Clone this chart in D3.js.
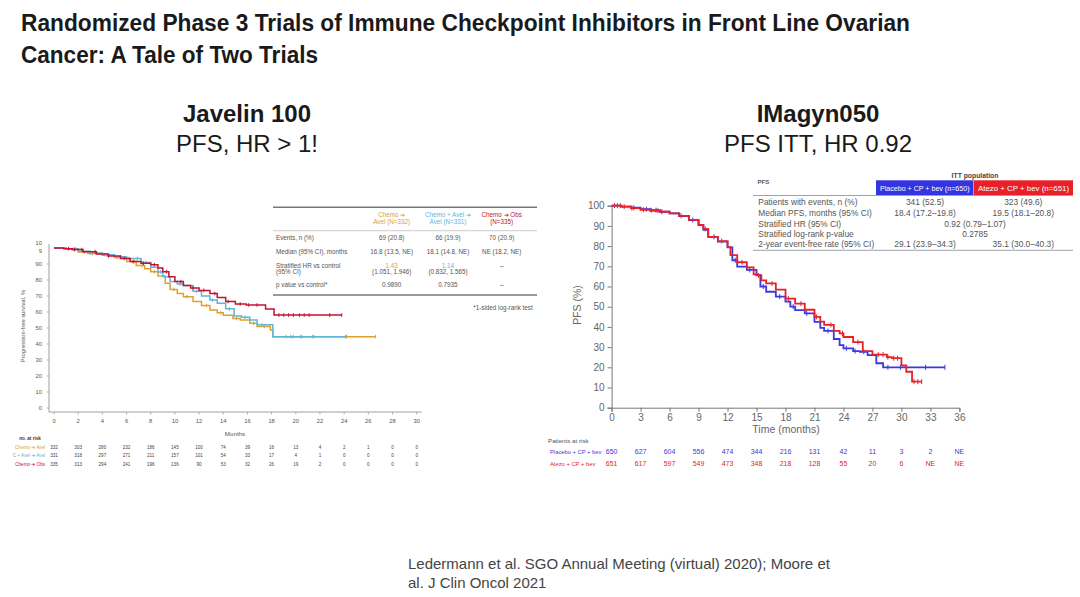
<!DOCTYPE html>
<html>
<head>
<meta charset="utf-8">
<script src="https://cdn.jsdelivr.net/npm/d3@7"></script>
<style>
    body { margin: 0; background: #fff; }
    svg { display: block; }
</style>
</head>
<body>
<svg id="slide"></svg>
<script>
// ---------- Javelin 100 (left panel) ----------
const javelinXTicks = [0, 2, 4, 6, 8, 10, 12, 14, 16, 18, 20, 22, 24, 26, 28, 30];
const javelinYTicks = [0, 10, 20, 30, 40, 50, 60, 70, 80, 90, 98, 103];
const javelinYLabels = ["0", "10", "20", "30", "40", "50", "60", "70", "80", "90", "9", "10"];
const javelinArmLabels = ["Chemo ➔ Avel", "C + Avel ➔ Avel", "Chemo ➔ Obs"];

const javelinAvel = [[0, 100], [1, 99.3], [2, 97.5], [2.8, 96.5], [4, 95.5], [5, 94], [6, 91.5], [6.8, 89], [7.5, 87],
    [8, 85.2], [8.6, 82.5], [9.2, 78], [9.6, 74], [10.2, 71.5], [10.7, 69.6], [11.5, 66.5], [12.2, 64], [12.9, 61.3],
    [13.5, 59.5], [14, 58], [14.8, 56], [15.4, 55], [16.2, 52.9], [16.8, 51], [17.9, 48.8], [18.1, 44.6], [26.6, 44.6]];
const javelinCombo = [[0, 100], [1, 99.5], [2, 98], [3, 96.8], [4, 95.8], [5, 94.5], [6, 93.5], [7.2, 91], [8, 88],
    [8.6, 85], [9, 82], [9.6, 79], [10.2, 77.5], [10.7, 76.5], [11.5, 73], [12.2, 70], [12.9, 67.5], [13.5, 65.4],
    [14.2, 62], [14.9, 57.5], [15.5, 56.7], [16.2, 55], [16.8, 52], [18.1, 44.6], [24.1, 44.6]];
const javelinObs = [[0, 100], [0.8, 99.6], [1.5, 99], [2.4, 97.7], [3.5, 96.3], [4.5, 95], [5.5, 93.5], [6.3, 91.5],
    [7.2, 90.5], [8, 89.5], [8.6, 87.5], [9, 85.2], [9.5, 82], [10, 79], [10.7, 76.5], [11.3, 75], [12, 73.5],
    [12.9, 71.5], [13.5, 69], [14.2, 66.5], [15, 65], [15.9, 64.4], [17.5, 61.9], [18.2, 58.1], [23.8, 58.1]];

const javelinAvelCensor = [1.6, 2.5, 3.2, 4.4, 5.2, 6.5, 7.3, 8.3, 9.9, 11, 12.6, 13.8, 15.1, 16.5, 17.4, 19.2, 19.8, 20.5, 21.4, 24.2, 26.6];
const javelinComboCensor = [1.8, 3, 4.2, 5.5, 6.2, 6.9, 7.6, 8.8, 10.4, 11.8, 13.1, 14.5, 15.8, 17.2, 19.6, 20.4, 21.5, 24.1];
const javelinObsCensor = [1.2, 1.7, 2.3, 3.4, 4.5, 5.8, 6.6, 7.4, 8.3, 9.3, 10.5, 11.5, 12.4, 13.3, 14.4, 15.4, 16.1,
    16.8, 18.6, 19, 19.4, 19.8, 20.3, 20.7, 21.1, 22.8, 23.8];

const javelinAtRiskAvel = [332, 303, 280, 232, 186, 145, 100, 74, 39, 16, 13, 4, 2, 1, 0, 0];
const javelinAtRiskCombo = [331, 318, 297, 271, 211, 157, 101, 54, 33, 17, 4, 1, 0, 0, 0, 0];
const javelinAtRiskObs = [335, 313, 294, 241, 196, 136, 90, 53, 32, 26, 19, 2, 0, 0, 0, 0];

const javelinTableHeaders = [["Chemo ➔", "Avel (N=332)"], ["Chemo + Avel ➔", "Avel (N=331)"], ["Chemo ➔ Obs", "(N=335)"]];
const javelinTableRows = [["Events, n (%)"], ["Median (95% CI), months"], ["Stratified HR vs control", "(95% CI)"], ["p value vs control*"]];
const javelinTableAvel = [["69 (20.8)"], ["16.8 (13.5, NE)"], ["1.43", "(1.051, 1.946)"], ["0.9890"]];
const javelinTableCombo = [["66 (19.9)"], ["18.1 (14.8, NE)"], ["1.14", "(0.832, 1.565)"], ["0.7935"]];
const javelinTableObs = [["70 (20.9)"], ["NE (18.2, NE)"], ["–"], ["–"]];

// ---------- IMagyn050 (right panel) ----------
const imagynXTicks = [0, 3, 6, 9, 12, 15, 18, 21, 24, 27, 30, 33, 36];
const imagynYTicks = [0, 10, 20, 30, 40, 50, 60, 70, 80, 90, 100];
const imagynArmLabels = ["Placebo + CP + bev", "Atezo + CP + bev"];

const imagynPlacebo = [[0, 100], [1, 99.5], [2, 99], [3, 98.3], [4, 97.8], [5, 97], [6, 96.2], [7, 94.9], [8, 92.9],
    [9, 90.4], [9.5, 88], [10, 84.6], [11, 82.2], [12, 79.4], [12.5, 73], [13, 69.8], [14, 68.2], [15, 65.7], [15.4, 60],
    [16, 57.4], [17, 55], [18, 52.5], [18.5, 50], [19, 48.3], [20, 46.7], [21, 42.5], [21.6, 39.5], [22, 38], [23, 34],
    [23.6, 31], [24, 29.4], [25, 28], [25.7, 27.7], [26.5, 26], [27.4, 22], [28.1, 20], [34.5, 20]];
const imagynAtezo = [[0, 100], [1, 99.5], [2, 98.8], [3, 98], [4, 97.5], [5, 97], [6, 96.2], [7, 95], [8, 93],
    [9, 90.5], [9.5, 88.5], [10, 84.6], [11, 82.5], [12, 79.5], [12.3, 75.5], [13, 72], [14, 69.5], [14.7, 66],
    [15, 65.5], [15.5, 63], [16, 61.5], [17, 58.5], [18, 54], [19, 51.5], [20, 48.5], [21, 45], [21.6, 42.6], [22, 41],
    [23, 38], [23.6, 36.8], [24, 35], [25, 32.5], [26, 28], [27, 26.3], [28.5, 25], [29, 24.5], [30, 21], [30.5, 17.8],
    [31.1, 12.9], [32.1, 12.9]];

const imagynPlaceboCensor = [2.3, 3.6, 4.1, 4.6, 5.2, 8.4, 10.6, 12.8, 14.3, 15.7, 17.4, 18.8, 20.2, 22.4, 24.3, 25.2, 26.1, 28.6, 29.9, 32.5, 34.5];
const imagynAtezoCensor = [0.3, 0.6, 0.9, 1.3, 2.1, 3.3, 4.8, 7.2, 9.7, 11.4, 13.5, 15.2, 16.6, 18.3, 19.6, 21.2, 22.7,
    23.9, 25.5, 27.6, 28.1, 28.6, 29.2, 29.6, 31.3, 31.7, 32.1];

const imagynAtRiskPlacebo = ["650", "627", "604", "556", "474", "344", "216", "131", "42", "11", "3", "2", "NE"];
const imagynAtRiskAtezo = ["651", "617", "597", "549", "473", "348", "218", "128", "55", "20", "6", "NE", "NE"];

const imagynTableHeaders = ["Placebo + CP + bev (n=650)", "Atezo + CP + bev (n=651)"];
const imagynTableRows = ["Patients with events, n (%)", "Median PFS, months (95% CI)", "Stratified HR (95% CI)",
    "Stratified log-rank p-value", "2-year event-free rate (95% CI)"];
const imagynTablePlacebo = ["341 (52.5)", "18.4 (17.2–19.8)", null, null, "29.1 (23.9–34.3)"];
const imagynTableAtezo = ["323 (49.6)", "19.5 (18.1–20.8)", null, null, "35.1 (30.0–40.3)"];
const imagynTableBoth = [null, null, "0.92 (0.79–1.07)", "0.2785", null];

// ---------- drawing ----------
function main() {
    const width = 1080;
    const height = 597;
    const sans = "'Liberation Sans', Arial, sans-serif";

    const svg = d3
        .select("#slide")
        .attr("width", width)
        .attr("height", height)
        .attr("viewBox", [0, 0, width, height])
        .style("font-family", sans);

    // slide title (squeezed a little, the original face is a narrow one)
    const titleLines = ["Randomized Phase 3 Trials of Immune Checkpoint Inhibitors in Front Line Ovarian", "Cancer: A Tale of Two Trials"];
    const titleWidths = [889, 297];
    svg.append("g")
        .selectAll("text")
        .data(titleLines)
        .enter()
        .append("text")
        .attr("x", 21)
        .attr("y", (d, i) => 31 + i * 32)
        .attr("font-weight", "bold")
        .attr("font-size", 23.5)
        .attr("textLength", (d, i) => titleWidths[i])
        .attr("lengthAdjust", "spacingAndGlyphs")
        .attr("fill", "#1a1a1a")
        .text(d => d);

    const heads = [
        { x: 247, title: "Javelin 100", sub: "PFS, HR > 1!" },
        { x: 818, title: "IMagyn050", sub: "PFS ITT, HR 0.92" }
    ];
    heads.forEach(h => {
        svg.append("text").attr("x", h.x).attr("y", 122).attr("text-anchor", "middle")
            .attr("font-weight", "bold").attr("font-size", 24).attr("fill", "#1a1a1a").text(h.title);
        svg.append("text").attr("x", h.x).attr("y", 152).attr("text-anchor", "middle")
            .attr("font-size", 24).attr("fill", "#1a1a1a").text(h.sub);
    });

    svg.append("g")
        .selectAll("text")
        .data(["Ledermann et al. SGO Annual Meeting (virtual) 2020); Moore et", "al. J Clin Oncol 2021"])
        .enter()
        .append("text")
        .attr("x", 408)
        .attr("y", (d, i) => 569 + i * 19)
        .attr("font-size", 15)
        .attr("fill", "#444")
        .text(d => d);

    const line = (x, y) => d3.line().curve(d3.curveStepAfter).x(d => x(d[0])).y(d => y(d[1]));
    const survivalAt = (series, m) => {
        const i = d3.bisector(d => d[0]).right(series, m) - 1;
        return series[Math.max(0, i)][1];
    };

    // ===== left: Javelin 100 =====
    const xL = d3.scaleLinear().domain([0, 30]).range([54, 416.7]);
    const yL = d3.scaleLinear().domain([0, 100]).range([408, 248]);
    const left = svg.append("g").attr("font-size", 5.8).attr("fill", "#555");

    left.append("line").attr("x1", 49).attr("x2", 49).attr("y1", yL(102.5)).attr("y2", 412)
        .attr("stroke", "#888").attr("stroke-width", 0.8);
    left.append("line").attr("x1", 49).attr("x2", 421.5).attr("y1", 412).attr("y2", 412)
        .attr("stroke", "#888").attr("stroke-width", 0.8);

    left.selectAll(".ytick")
        .data(javelinYTicks)
        .enter()
        .append("text")
        .attr("x", 42)
        .attr("y", d => yL(d) + 2)
        .attr("text-anchor", "end")
        .text((d, i) => javelinYLabels[i]);
    left.selectAll(".ytk")
        .data(javelinYTicks.slice(0, 10))
        .enter()
        .append("line")
        .attr("x1", 47).attr("x2", 49)
        .attr("y1", d => yL(d)).attr("y2", d => yL(d))
        .attr("stroke", "#888").attr("stroke-width", 0.6);

    left.selectAll(".xtick")
        .data(javelinXTicks)
        .enter()
        .append("text")
        .attr("x", d => xL(d))
        .attr("y", 422.5)
        .attr("text-anchor", "middle")
        .text(d => d);
    left.selectAll(".xtk")
        .data(javelinXTicks)
        .enter()
        .append("line")
        .attr("x1", d => xL(d)).attr("x2", d => xL(d))
        .attr("y1", 412).attr("y2", 414.5)
        .attr("stroke", "#888").attr("stroke-width", 0.6);

    left.append("text").attr("x", 235).attr("y", 436).attr("text-anchor", "middle").attr("font-size", 6.2).text("Months");
    left.append("text")
        .attr("transform", "translate(25,326)rotate(-90)")
        .attr("text-anchor", "middle")
        .attr("font-size", 5.8)
        .text("Progression-free survival, %");

    const javelinArms = [
        { data: javelinAvel, censor: javelinAvelCensor, risk: javelinAtRiskAvel, color: "#E0A030" },
        { data: javelinCombo, censor: javelinComboCensor, risk: javelinAtRiskCombo, color: "#5DB6DB" },
        { data: javelinObs, censor: javelinObsCensor, risk: javelinAtRiskObs, color: "#C4122F" }
    ];
    javelinArms.forEach((arm, k) => {
        left.append("path")
            .attr("d", line(xL, yL)(arm.data))
            .attr("fill", "none")
            .attr("stroke", arm.color)
            .attr("stroke-width", 1.5);
        left.selectAll(null)
            .data(arm.censor)
            .enter()
            .append("line")
            .attr("x1", d => xL(d)).attr("x2", d => xL(d))
            .attr("y1", d => yL(survivalAt(arm.data, d)) - 1.8)
            .attr("y2", d => yL(survivalAt(arm.data, d)) + 1.8)
            .attr("stroke", arm.color)
            .attr("stroke-width", 1);
        // number at risk
        left.append("text").attr("x", 45).attr("y", 448.5 + k * 8.8).attr("text-anchor", "end")
            .attr("font-size", 4.6).attr("fill", arm.color).text(javelinArmLabels[k]);
        left.selectAll(null)
            .data(arm.risk)
            .enter()
            .append("text")
            .attr("x", (d, i) => xL(javelinXTicks[i]))
            .attr("y", 448.5 + k * 8.8)
            .attr("text-anchor", "middle")
            .attr("font-size", 4.6)
            .attr("fill", "#444")
            .text(d => d);
    });
    left.append("text").attr("x", 30).attr("y", 439.5).attr("text-anchor", "middle")
        .attr("font-size", 4.6).attr("font-weight", "bold").attr("fill", "#333").text("no. at risk");

    // summary table (left)
    const tL = svg.append("g").attr("font-size", 6.3).attr("fill", "#555");
    tL.append("rect").attr("x", 273).attr("y", 207).attr("width", 264).attr("height", 88).attr("fill", "#fff");
    tL.append("line").attr("x1", 273).attr("x2", 537).attr("y1", 207.3).attr("y2", 207.3).attr("stroke", "#777").attr("stroke-width", 1.4);
    tL.append("line").attr("x1", 273).attr("x2", 537).attr("y1", 230.7).attr("y2", 230.7).attr("stroke", "#aaa").attr("stroke-width", 0.6);
    tL.append("line").attr("x1", 273).attr("x2", 537).attr("y1", 295).attr("y2", 295).attr("stroke", "#777").attr("stroke-width", 1.4);
    const colX = [391.7, 448, 501.7];
    const colColor = ["#E0A030", "#5DB6DB", "#C4122F"];
    const rowY = [240.3, 254.3, 267.8, 287.2];
    javelinTableHeaders.forEach((lines, c) => {
        lines.forEach((t, j) => {
            tL.append("text").attr("x", colX[c]).attr("y", 217 + j * 6.8).attr("text-anchor", "middle")
                .attr("fill", colColor[c]).text(t);
        });
    });
    javelinTableRows.forEach((lines, r) => {
        lines.forEach((t, j) => {
            tL.append("text").attr("x", 276).attr("y", rowY[r] + j * 6.5).text(t);
        });
    });
    [javelinTableAvel, javelinTableCombo, javelinTableObs].forEach((col, c) => {
        col.forEach((lines, r) => {
            lines.forEach((t, j) => {
                tL.append("text").attr("x", colX[c]).attr("y", rowY[r] + j * 6.5).attr("text-anchor", "middle")
                    .attr("fill", r === 2 && j === 0 && c < 2 ? colColor[c] : "#555").text(t);
            });
        });
    });
    tL.append("text").attr("x", 503).attr("y", 310).attr("text-anchor", "middle").text("*1-sided log-rank test");

    // ===== right: IMagyn050 =====
    const xR = d3.scaleLinear().domain([0, 36]).range([611.6, 959.4]);
    const yR = d3.scaleLinear().domain([0, 100]).range([407.7, 205.7]);
    const right = svg.append("g").attr("fill", "#666");

    right.append("g")
        .attr("transform", "translate(611.6,0)")
        .call(d3.axisLeft(yR).tickValues(imagynYTicks).tickSize(4).tickPadding(3))
        .call(g => g.selectAll("text").attr("font-size", 10).attr("fill", "#666").attr("font-family", sans))
        .call(g => g.selectAll("line,path").attr("stroke", "#777"));
    right.append("g")
        .attr("transform", "translate(0,407.7)")
        .call(d3.axisBottom(xR).tickValues(imagynXTicks).tickSize(4).tickPadding(2))
        .call(g => g.selectAll("text").attr("font-size", 10).attr("fill", "#666").attr("font-family", sans))
        .call(g => g.selectAll("line,path").attr("stroke", "#777"));

    right.append("text").attr("x", 786).attr("y", 433).attr("text-anchor", "middle")
        .attr("font-size", 10.5).text("Time (months)");
    right.append("text").attr("transform", "translate(581,305)rotate(-90)").attr("text-anchor", "middle")
        .attr("font-size", 10.5).text("PFS (%)");

    const imagynArms = [
        { data: imagynPlacebo, censor: imagynPlaceboCensor, risk: imagynAtRiskPlacebo, color: "#3A3ADF" },
        { data: imagynAtezo, censor: imagynAtezoCensor, risk: imagynAtRiskAtezo, color: "#E8202A" }
    ];
    imagynArms.forEach((arm, k) => {
        right.append("path")
            .attr("d", line(xR, yR)(arm.data))
            .attr("fill", "none")
            .attr("stroke", arm.color)
            .attr("stroke-width", 1.8);
        right.selectAll(null)
            .data(arm.censor)
            .enter()
            .append("line")
            .attr("x1", d => xR(d)).attr("x2", d => xR(d))
            .attr("y1", d => yR(survivalAt(arm.data, d)) - 2.5)
            .attr("y2", d => yR(survivalAt(arm.data, d)) + 2.5)
            .attr("stroke", arm.color)
            .attr("stroke-width", 1);
        right.append("text").attr("x", 550).attr("y", 453.5 + k * 12).attr("font-size", 5.8)
            .attr("fill", arm.color).text(imagynArmLabels[k]);
        right.selectAll(null)
            .data(arm.risk)
            .enter()
            .append("text")
            .attr("x", (d, i) => xR(imagynXTicks[i]))
            .attr("y", 453.5 + k * 12)
            .attr("text-anchor", "middle")
            .attr("font-size", 7)
            .attr("fill", arm.color)
            .text(d => d);
    });
    right.append("text").attr("x", 548).attr("y", 443).attr("font-size", 6.2).attr("fill", "#555").text("Patients at risk");

    // summary table (right)
    const tR = svg.append("g").attr("font-size", 8.4).attr("fill", "#555");
    tR.append("text").attr("x", 975).attr("y", 177.5).attr("text-anchor", "middle").attr("font-weight", "bold")
        .attr("font-size", 6.8).attr("fill", "#444").text("ITT population");
    tR.append("text").attr("x", 757.5).attr("y", 184).attr("font-weight", "bold").attr("font-size", 6)
        .attr("fill", "#555").text("PFS");
    const boxes = [{ x: 876, w: 97.5, color: "#3434E0" }, { x: 974, w: 99, color: "#E8202A" }];
    boxes.forEach((b, i) => {
        tR.append("rect").attr("x", b.x).attr("y", 180.3).attr("width", b.w).attr("height", 15).attr("fill", b.color);
        tR.append("text").attr("x", b.x + b.w / 2).attr("y", 190.5).attr("text-anchor", "middle").attr("font-size", 7.4)
            .attr("textLength", b.w - 8).attr("lengthAdjust", "spacingAndGlyphs")
            .attr("fill", "#fff").text(imagynTableHeaders[i]);
    });
    tR.append("line").attr("x1", 753).attr("x2", 1073).attr("y1", 195.5).attr("y2", 195.5).attr("stroke", "#9aa3ad").attr("stroke-width", 1);
    tR.append("line").attr("x1", 753).attr("x2", 1073).attr("y1", 250.3).attr("y2", 250.3).attr("stroke", "#9aa3ad").attr("stroke-width", 1);
    const rY = [204.5, 215.8, 226.8, 237.4, 247.4];
    imagynTableRows.forEach((t, r) => {
        tR.append("text").attr("x", 758.3).attr("y", rY[r]).text(t);
        if (imagynTablePlacebo[r]) tR.append("text").attr("x", 925).attr("y", rY[r]).attr("text-anchor", "middle").text(imagynTablePlacebo[r]);
        if (imagynTableAtezo[r]) tR.append("text").attr("x", 1023.3).attr("y", rY[r]).attr("text-anchor", "middle").text(imagynTableAtezo[r]);
        if (imagynTableBoth[r]) tR.append("text").attr("x", 975).attr("y", rY[r]).attr("text-anchor", "middle").text(imagynTableBoth[r]);
    });
}

main()
</script>
</body>
</html>
